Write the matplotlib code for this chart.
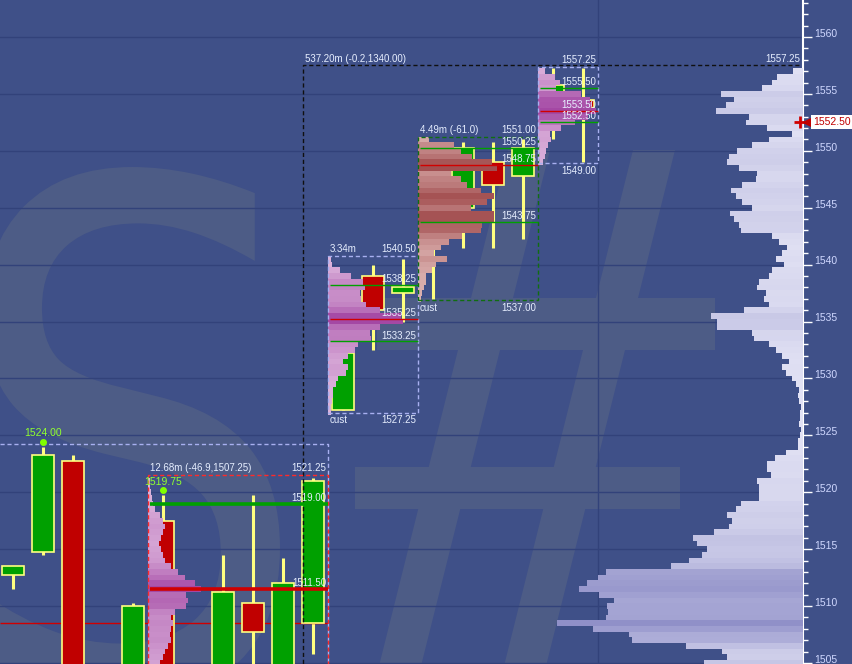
import numpy as np
import matplotlib.pyplot as plt
import matplotlib.transforms as mtransforms
import matplotlib.colors as mcolors
from matplotlib.patches import Rectangle, Polygon, PathPatch
from matplotlib.textpath import TextPath
from matplotlib.font_manager import FontProperties

plt.rcParams['font.family'] = ['Liberation Sans', 'DejaVu Sans']

# ---- candles (bar index, open, high, low, close) ----
candle_idx = [0, 1, 2, 4, 5, 7, 8, 9, 10, 11, 12, 13, 14, 15, 16, 17, 18, 19]
opens  = [1512.75, 1514.75, 1522.75, 1503.0, 1517.5, 1503.0, 1510.25, 1503.0, 1508.5,
          1527.25, 1539.0, 1537.5, 1542.25, 1545.0, 1549.0, 1547.75, 1553.0, 1554.5]
highs  = [1513.5, 1524.0, 1523.25, 1510.25, 1519.75, 1514.5, 1519.75, 1514.25, 1521.25,
          1532.25, 1540.0, 1540.5, 1547.0, 1550.75, 1550.75, 1551.0, 1557.25, 1557.25]
lows   = [1511.5, 1514.5, 1502.0, 1502.0, 1503.0, 1502.0, 1504.5, 1502.0, 1505.75,
          1527.25, 1532.5, 1535.0, 1537.0, 1541.5, 1541.5, 1542.25, 1551.0, 1549.0]
closes = [1513.5, 1523.25, 1503.0, 1510.0, 1504.0, 1511.25, 1507.75, 1512.0, 1521.0,
          1532.25, 1536.0, 1538.0, 1545.5, 1550.25, 1547.0, 1550.25, 1555.75, 1553.75]

# ---- market profiles (0.5 pt rows, from top price downwards) ----
p1_top = 1521.0
p1_vol = [2, 2, 3, 4, 5, 7, 12, 15, 17, 15, 13, 11, 13, 15, 17, 23, 30, 37, 47, 53,
          38, 40, 38, 27, 23, 25, 23, 22, 23, 20, 17, 15, 12]
p2_top = 1540.5
p2_vol = [3, 4, 12, 23, 35, 37, 32, 33, 38, 52, 73, 75, 52, 42, 43, 30, 27, 20, 15, 20,
          18, 10, 8, 5, 5, 4, 3, 3]
p3_top = 1551.0
p3_vol = [11, 36, 43, 54, 74, 79, 33, 43, 49, 63, 76, 69, 53, 76, 76, 64, 63, 44, 31, 23,
          16, 29, 18, 14, 8, 8, 6, 4, 3]
p4_top = 1557.0
p4_vol = [7, 17, 22, 18, 43, 52, 53, 58, 50, 37, 23, 12, 13, 10, 8, 7, 5]
vp_top = 1557.0
vp_vol = [10, 26, 31, 41, 82, 69, 77, 87, 54, 57, 36, 11, 34, 51, 66, 74, 76, 64, 46, 47,
          61, 72, 67, 61, 51, 73, 69, 64, 62, 31, 24, 16, 21, 27, 19, 31, 34, 44, 46, 37,
          39, 34, 59, 92, 86, 86, 51, 49, 34, 27, 21, 14, 21, 17, 11, 7, 4, 5, 4, 2,
          3, 3, 4, 2, 3, 5, 5, 17, 28, 36, 36, 32, 46, 44, 44, 44, 62, 67, 76, 71,
          74, 89, 110, 106, 96, 101, 114, 132, 197, 205, 216, 224, 204, 189, 196, 195, 197, 246, 210, 174,
          171, 117, 81, 76, 99]

# ---- profile blocks: left, right, top, bottom, lines ----
blocks = [
    dict(x0=4.5, x1=10.5, top=1521.5, bot=1500.0, color='#ff2a2a',
         head='12.68m (-46.9,1507.25)', hi='1521.25', foot=None, lo=None,
         lines=[(1519.00, '#00a000'), (1511.50, '#d00000')], lw=2.6),
    dict(x0=10.5, x1=13.5, top=1540.75, bot=1527.0, color='#a8b0f0',
         head='3.34m', hi='1540.50', foot='cust', lo='1527.25',
         lines=[(1538.25, '#00a000'), (1535.25, '#d00000'), (1533.25, '#00a000')], lw=1.0),
    dict(x0=13.5, x1=17.5, top=1551.25, bot=1536.9, color='#106e10',
         head='4.49m (-61.0)', hi='1551.00', foot='cust', lo='1537.00',
         lines=[(1550.25, '#00a000'), (1548.75, '#d00000'), (1543.75, '#00a000')], lw=1.0),
    dict(x0=17.5, x1=19.5, top=1557.4, bot=1548.9, color='#a8b0f0',
         head=None, hi='1557.25', foot=None, lo='1549.00',
         lines=[(1555.50, '#00a000'), (1553.50, '#d00000'), (1552.50, '#00a000')], lw=1.0),
]
last_price = 1552.50

BG = '#3f5088'
GRID = '#32427a'
WM = '#4d5c86'
TXT = '#e6eeff'
UP, DN, EDGE = '#00a000', '#c00000', '#ffff80'
XMIN, XMAX = -13 / 30, 790 / 30
YMIN, YMAX = 1504.91, 1563.25
PX = 1 / 30.0          # one pixel in bar units
FS = 7

fig = plt.figure(figsize=(8.53, 6.64), dpi=100)
fig.patch.set_facecolor(BG)
ax = fig.add_axes([0, 0, 803 / 853, 1])
ax.set_facecolor(BG)
ax.set_xlim(XMIN, XMAX)
ax.set_ylim(YMIN, YMAX)

# watermark "S#"
W, H = 803.0, 664.0
tp = TextPath((0, 0), 'S', size=100, prop=FontProperties(family='DejaVu Sans'))
bb = tp.get_extents()
sx0, sx1, sy0, sy1 = -15, 280, 167, 700
tr = (mtransforms.Affine2D().translate(-bb.x0, -bb.y0)
      .scale((sx1 - sx0) / bb.width, (sy1 - sy0) / bb.height)
      .translate(sx0, H - sy1).scale(1 / W, 1 / H))
ax.add_patch(PathPatch(tr.transform_path(tp), transform=ax.transAxes,
                       fc=WM, ec='none', zorder=0.2))
slope = 0.25
for shift in (0, -125):
    pts = []
    for y, dx in ((150, 0), (150, -42), (700, -42), (700, 0)):
        pts.append((605 + shift + dx + (430 - y) * slope, y))
    ax.add_patch(Polygon([(x / W, 1 - y / H) for x, y in pts], closed=True,
                         transform=ax.transAxes, fc=WM, ec='none', zorder=0.2))
for (xa, xb, ya, yb) in ((377, 715, 298, 350), (355, 680, 467, 509)):
    ax.add_patch(Rectangle((xa / W, 1 - yb / H), (xb - xa) / W, (yb - ya) / H,
                           transform=ax.transAxes, fc=WM, ec='none', zorder=0.2))

# grid
ax.set_axisbelow(True)
ax.yaxis.grid(True, which='major', color=GRID, lw=1)
ax.axvline(19.5, color=GRID, lw=1, zorder=0.5)

# candles
for i, o, h, l, c in zip(candle_idx, opens, highs, lows, closes):
    ax.vlines(i, l, h, color=EDGE, lw=2.2, zorder=2)
    ax.add_patch(Rectangle((i - 0.367, min(o, c)), 0.733, abs(c - o),
                           fc=UP if c > o else DN, ec=EDGE, lw=1.2, zorder=3))

# reference lines
ax.hlines(1508.5, XMIN, 10.5, color='#d00000', lw=1, zorder=2.5)
ax.plot([XMIN, 10.5, 10.5], [1524.25, 1524.25, 1500], color='#a8b0f0', lw=1,
        ls=(0, (3, 2)), zorder=5)
ax.plot([26.2, 9.667, 9.667], [1557.5, 1557.5, 1500], color='#101010', lw=1,
        ls=(0, (3, 2)), zorder=5)
ax.text(9.733, 1557.65, '537.20m (-0.2,1340.00)', color=TXT, fontsize=FS,
        ha='left', va='bottom', zorder=7)
ax.text(26.23, 1557.65, '1557.25', color=TXT, fontsize=FS, ha='right', va='bottom', zorder=7)


def shade(vols, light, dark):
    lo, hi = np.array(mcolors.to_rgb(light)), np.array(mcolors.to_rgb(dark))
    t = np.array(vols) / max(vols)
    return [tuple(lo + (hi - lo) * k ** 1.2) for k in t]


def profile(top, vols, left, light, dark):
    prices = top - 0.5 * np.arange(len(vols))
    ax.barh(prices, np.array(vols) * PX, height=0.5, left=left,
            color=shade(vols, light, dark), edgecolor='none', zorder=4)


profile(p1_top, p1_vol, 4.5, '#dcb4dc', '#a448a4')
profile(p2_top, p2_vol, 10.5, '#dcb4dc', '#a448a4')
profile(p3_top, p3_vol, 13.5, '#dcb2b0', '#a24e50')
profile(p4_top, p4_vol, 17.5, '#dcb4dc', '#a448a4')

# composite volume profile on the right edge
vp_prices = vp_top - 0.5 * np.arange(len(vp_vol))
vp_w = np.array(vp_vol) * PX
ax.barh(vp_prices, vp_w, height=0.5, left=XMAX - vp_w,
        color=shade(vp_vol, '#e2e2f4', '#9090c8'), edgecolor='none', zorder=4)

# blocks
for b in blocks:
    ax.add_patch(Rectangle((b['x0'], b['bot']), b['x1'] - b['x0'], b['top'] - b['bot'],
                           fill=False, ec=b['color'], lw=1, ls=(0, (3, 2)), zorder=5))
    for price, col in b['lines']:
        ax.hlines(price, b['x0'] + 2 * PX, b['x1'], color=col, lw=b['lw'], zorder=5)
        ax.text(b['x1'] - 2 * PX, price + 0.08, f'{price:.2f}', color=TXT, fontsize=FS,
                ha='right', va='bottom', zorder=7)
    if b['head']:
        ax.text(b['x0'] + 2 * PX, b['top'] + 0.15, b['head'], color=TXT, fontsize=FS,
                ha='left', va='bottom', zorder=7)
    ax.text(b['x1'] - 2 * PX, b['top'] + 0.15, b['hi'], color=TXT, fontsize=FS,
            ha='right', va='bottom', zorder=7)
    if b['foot']:
        ax.text(b['x0'] + 2 * PX, b['bot'] - 0.25, b['foot'], color=TXT, fontsize=FS,
                ha='left', va='top', zorder=7)
    if b['lo']:
        ax.text(b['x1'] - 2 * PX, b['bot'] - 0.25, b['lo'], color=TXT, fontsize=FS,
                ha='right', va='top', zorder=7)

# swing-high markers
for i in (1, 5):
    k = candle_idx.index(i)
    ax.plot(i, highs[k] + 0.45, 'o', color='#80ff00', ms=4, zorder=7)
    ax.text(i, highs[k] + 0.75, f'{highs[k]:.2f}', color='#90ff30', fontsize=7.5,
            ha='center', va='bottom', zorder=7)

# price axis
for s in ('left', 'top', 'bottom'):
    ax.spines[s].set_visible(False)
ax.spines['right'].set_color('white')
ax.spines['right'].set_linewidth(1.5)
ax.set_xticks([])
ax.yaxis.tick_right()
ax.set_yticks(np.arange(1505, 1561, 5))
ax.set_yticks(np.arange(1505, 1564, 1), minor=True)
ax.tick_params(axis='y', which='major', length=6.5, width=1, colors='white',
               labelcolor='#d0d8ff', labelsize=7.5, pad=1.5)
ax.tick_params(axis='y', which='minor', length=3.5, width=1, colors='white')
off = mtransforms.ScaledTranslation(0, 3 / 72, fig.dpi_scale_trans)
for lab in ax.get_yticklabels():
    lab.set_transform(lab.get_transform() + off)

# last price marker
ax.plot(XMAX - 3 * PX, last_price, marker='+', color='#d00000', ms=8, mew=2,
        zorder=8, clip_on=False)
ax.plot(XMAX + 5 * PX, last_price, marker='<', color='#c00000', ms=7, zorder=8,
        clip_on=False)
ax.text(XMAX + 48 * PX, last_price, f'{last_price:.2f}', color='#c00000', fontsize=7.5,
        ha='right', va='center', zorder=8, clip_on=False,
        bbox=dict(fc='white', ec='none', pad=1.5))

fig.savefig('out.png', dpi=100, facecolor=BG)
